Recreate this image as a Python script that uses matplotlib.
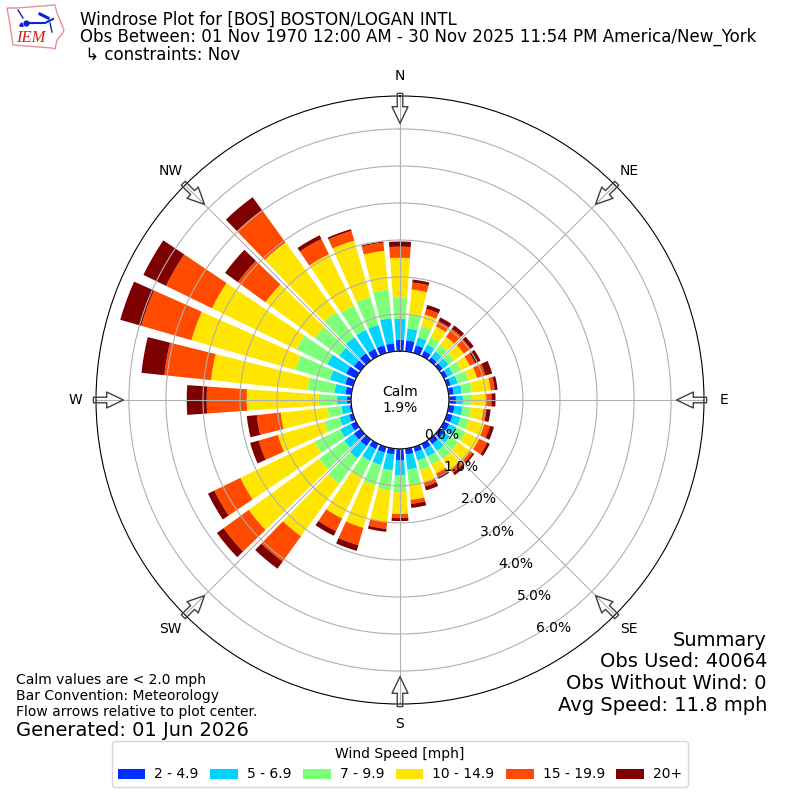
import numpy as np
import matplotlib
matplotlib.use("Agg")
import matplotlib.pyplot as plt
from matplotlib.patches import Polygon

directions = list(range(0, 360, 10))
bin_labels = ["2 - 4.9", "5 - 6.9", "7 - 9.9", "10 - 14.9", "15 - 19.9", "20+"]
bin_colors = ["#0030ff", "#00d4ff", "#7dff7a", "#ffe600", "#ff4a00", "#7f0000"]
# percent of obs for each wind direction, one list per speed bin
speed_2_5 = [.30, .30, .22, .16, .11, .11, .11, .11, .14, .19, .16, .16, .16, .16, .16, .16, .14, .16,
             .30, .16, .16, .16, .22, .22, .16, .11, .05, .11, .16, .22, .30, .22, .24, .22, .22, .22]
speed_5_7 = [.57, .32, .22, .19, .19, .19, .16, .19, .22, .19, .22, .22, .22, .19, .22, .22, .24, .41,
             .41, .43, .35, .35, .41, .32, .32, .27, .22, .27, .30, .43, .57, .49, .54, .57, .57, .68]
speed_7_10 = [.57, .38, .32, .22, .22, .19, .24, .30, .27, .22, .22, .24, .27, .27, .27, .24, .27, .41,
              .46, .54, .57, .51, .84, .84, .76, .43, .38, .49, .73, .97, .92, .81, .84, .73, .78, .78]
speed_10_15 = [1.08, .68, .32, .32, .27, .32, .27, .24, .51, .41, .35, .43, .41, .41, .35, .27, .35, .41,
               .59, .86, 1.19, 1.22, 1.76, 2.35, 2.24, 1.30, 1.27, 1.95, 2.62, 2.92, 2.54, 1.65, 2.32, 1.54, 1.59, 1.05]
speed_15_20 = [.30, .19, .16, .16, .27, .22, .16, .24, .11, .14, .08, .16, .24, .08, .11, .08, .11, .11,
               .11, .19, .49, .38, .84, .84, .78, .54, .65, 1.08, 1.27, 1.41, 1.38, .92, 1.08, .46, .27, .22]
speed_20 = [.14, .08, .11, .11, .11, .11, .16, .19, .08, .11, .11, .11, .08, .05, .08, .08, .11, .11,
            .08, .08, .16, .14, .24, .22, .19, .24, .27, .54, .62, .59, .68, .43, .43, .11, .05, .03]
all_speeds = [speed_2_5, speed_5_7, speed_7_10, speed_10_15, speed_15_20, speed_20]

compass = ["N", "NE", "E", "SE", "S", "SW", "W", "NW"]
compass_deg = [0, 45, 90, 135, 180, 225, 270, 315]
pct_ticks = [0, 1, 2, 3, 4, 5, 6]
pct_labels = ["0.0%", "1.0%", "2.0%", "3.0%", "4.0%", "5.0%", "6.0%"]

fig = plt.figure(figsize=(8, 8), dpi=100, facecolor="white")
ax = fig.add_axes([0.12, 0.12, 0.76, 0.76], projection="polar")
ax.set_theta_zero_location("N")
ax.set_theta_direction(-1)

theta = np.radians(directions)
width = np.radians(8)
base = np.zeros(len(directions))
for vals, lab, col in zip(all_speeds, bin_labels, bin_colors):
    ax.bar(theta, vals, width=width, bottom=base, color=col, label=lab, linewidth=0)
    base = base + np.array(vals)

ax.set_rorigin(-1.32)
ax.set_rlim(0, 6.89)
ax.set_thetagrids(compass_deg, compass, fontsize=10)
ax.tick_params(axis="x", pad=4)
ax.set_rgrids(pct_ticks, pct_labels, fontsize=10)
ax.set_rlabel_position(150)
ax.grid(True, color="#b0b0b0", linewidth=0.8)

# flow arrows round the rim, pointing at the centre
for d in compass_deg:
    ax.annotate("", xy=(np.radians(d), 6.15), xytext=(np.radians(d), 6.96),
                arrowprops=dict(facecolor="none", edgecolor="#404040", width=4, headwidth=11.5,
                                headlength=12, linewidth=1, shrink=0), annotation_clip=False, zorder=5)

fig.text(0.5, 0.5, "Calm\n1.9%", ha="center", va="center", fontsize=10)

fig.text(80 / 800, 1 - 20 / 800, "Windrose Plot for [BOS] BOSTON/LOGAN INTL", fontsize=12, va="center")
fig.text(80 / 800, 1 - 37 / 800, "Obs Between: 01 Nov 1970 12:00 AM - 30 Nov 2025 11:54 PM America/New_York",
         fontsize=12, va="center")
fig.text(80 / 800, 1 - 55 / 800, " ↳ constraints: Nov", fontsize=12, va="center")

summary = ["Summary", "Obs Used: 40064", "Obs Without Wind: 0", "Avg Speed: 11.8 mph"]
for i, s in enumerate(summary):
    fig.text(767 / 800, 1 - (640 + i * 21.7) / 800, s, fontsize=14, ha="right", va="center")

notes = ["Calm values are < 2.0 mph", "Bar Convention: Meteorology", "Flow arrows relative to plot center."]
for i, s in enumerate(notes):
    fig.text(16 / 800, 1 - (680 + i * 16) / 800, s, fontsize=10, va="center")
fig.text(16 / 800, 1 - 730 / 800, "Generated: 01 Jun 2026", fontsize=14, va="center")

handles, labels = ax.get_legend_handles_labels()
fig.legend(handles, labels, title="Wind Speed [mph]", ncol=6, loc="lower center",
           bbox_to_anchor=(0.5, 0.0075), fontsize=10, title_fontsize=10,
           handletextpad=0.65, columnspacing=0.82)

# IEM logo, a rough Iowa outline with the wind glyph
logo = fig.add_axes([0, 1 - 52 / 800, 68 / 800, 48 / 800])
logo.set_xlim(0, 68)
logo.set_ylim(52, 4)
logo.axis("off")
iowa_x = [7, 17, 55, 57, 64, 62, 57, 55, 52, 13, 10, 7]
iowa_y = [8, 8, 5, 13, 30, 34, 40, 49, 48, 45, 25, 8]
logo.add_patch(Polygon(np.column_stack([iowa_x, iowa_y]), closed=True, fill=False, edgecolor="#e89090", linewidth=1))
logo.plot([25, 45, 53], [23, 23, 19], color="#1020d0", linewidth=1.5)
logo.plot([18, 23], [10, 18], color="#1020d0", linewidth=1)
logo.plot([40, 48], [14, 18], color="#1020d0", linewidth=2.2)
logo.plot([50, 52], [23, 32], color="#1020d0", linewidth=1)
logo.plot([25.5], [23], "o", color="#1020d0", markersize=3.5)
logo.plot([20.5], [24], "^", color="#1020d0", markersize=2.5)
logo.text(30.5, 38, "IEM", color="#d02020", fontsize=12, family="Liberation Serif", style="italic", ha="center", va="center")

fig.savefig("out.png", dpi=100)
